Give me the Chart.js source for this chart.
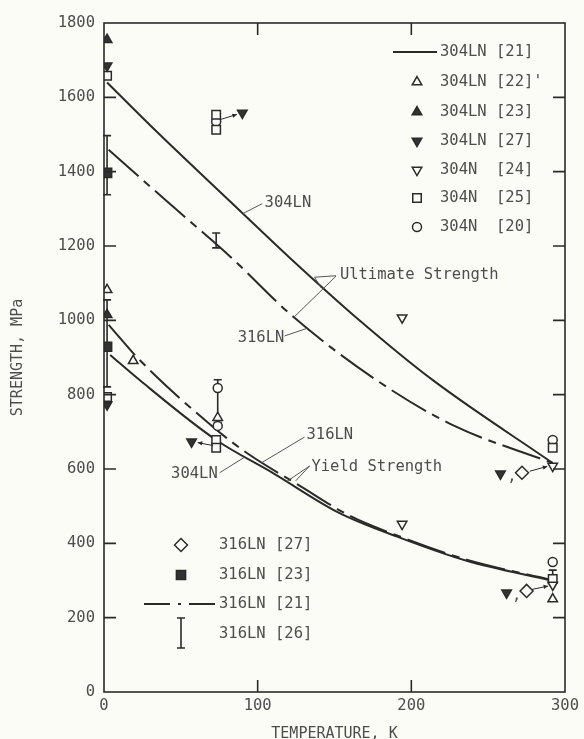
<!DOCTYPE html>
<html>
<head>
<meta charset="utf-8">
<script src="https://cdn.jsdelivr.net/npm/chart.js@4.4.1/dist/chart.umd.min.js"></script>
<style>
  html, body { margin: 0; padding: 0; background: #fcfcf7; }
  #wrap { width: 584px; height: 739px; }
</style>
</head>
<body>
<div id="wrap"><canvas id="chart" width="584" height="739"></canvas></div>
<script>
// curves: temperature (K) and strength (MPa)
const uts304LN_T = [2, 30, 90, 121, 166, 214, 292];
const uts304LN_S = [1640, 1525, 1289, 1168, 1001, 839, 616];
const uts316LN_T = [3, 30, 46, 82, 123, 177, 227, 292];
const uts316LN_S = [1459, 1360, 1302, 1172, 1010, 840, 718, 616];
const ys304LN_T = [4, 23, 73, 110, 153, 192, 236, 291];
const ys304LN_S = [907, 840, 678, 589, 482, 416, 353, 300];
const ys316LN_T = [3, 23, 71, 93, 127, 160, 192, 236, 291];
const ys316LN_S = [988, 894, 713, 643, 556, 474, 419, 356, 302];

// measured points
const p304LN22_T = [2, 19, 74, 292];
const p304LN22_S = [1082, 891, 738, 250];
const p304LN23_T = [2, 2];
const p304LN23_S = [1755, 1015];
const p304LN27_T = [2, 2, 90, 57, 258, 262];
const p304LN27_S = [1685, 773, 1558, 673, 587, 267];
const p304N24_T = [194, 194, 292, 292];
const p304N24_S = [1007, 452, 608, 288];
const p304N25_T = [2, 2, 73, 73, 73, 73, 292, 292];
const p304N25_S = [1658, 794, 1553, 1513, 678, 657, 657, 304];
const p304N20_T = [73, 74, 74, 292, 292];
const p304N20_S = [1535, 818, 716, 678, 350];
const p316LN27_T = [272, 275];
const p316LN27_S = [590, 272];
const p316LN23_T = [2, 2];
const p316LN23_S = [1397, 929];

// 316LN [26] scatter bands
const err316LN26_T = [2, 2, 73, 74, 292];
const err316LN26_lo = [1338, 821, 1195, 725, 290];
const err316LN26_hi = [1497, 1055, 1235, 840, 328];

const xTicks = [0, 100, 200, 300];
const yTicks = [0, 200, 400, 600, 800, 1000, 1200, 1400, 1600, 1800];

const ink = '#2a2a2a';
const grey = '#4d4d4d';
const paper = '#fcfcf7';
const fontFam = '"DejaVu Sans Mono", monospace';
const dashDot = [40, 7, 8, 7];

function pts(T, S) {
    return T.map((t, i) => ({ x: t, y: S[i] }));
}

function marker(label, T, S, style, radius, filled, rotation) {
    return {
        type: 'scatter', label: label, data: pts(T, S), order: 1,
        pointStyle: style, pointRadius: radius, pointRotation: rotation || 0,
        pointBorderWidth: 1.5, borderColor: ink, pointBorderColor: ink,
        pointBackgroundColor: filled ? '#333' : paper, backgroundColor: filled ? '#333' : paper
    };
}

function curve(label, T, S, dash) {
    return {
        type: 'line', label: label, data: pts(T, S), order: 2,
        borderColor: ink, borderWidth: 2, borderDash: dash || [],
        pointRadius: 0, tension: 0.4, cubicInterpolationMode: 'monotone', fill: false
    };
}

const datasets = [
    marker('304LN [22]\'', p304LN22_T, p304LN22_S, 'triangle', 5.5, false),
    marker('304LN [23]', p304LN23_T, p304LN23_S, 'triangle', 5.5, true),
    marker('304LN [27]', p304LN27_T, p304LN27_S, 'triangle', 5.5, true, 180),
    marker('304N  [24]', p304N24_T, p304N24_S, 'triangle', 5.5, false, 180),
    marker('304N  [25]', p304N25_T, p304N25_S, 'rect', 6, false),
    marker('304N  [20]', p304N20_T, p304N20_S, 'circle', 4.5, false),
    marker('316LN [27]', p316LN27_T, p316LN27_S, 'rectRot', 6.5, false),
    marker('316LN [23]', p316LN23_T, p316LN23_S, 'rect', 6.5, true),
    curve('304LN [21]', uts304LN_T, uts304LN_S),
    curve('316LN [21]', uts316LN_T, uts316LN_S, dashDot),
    curve('304LN yield', ys304LN_T, ys304LN_S),
    curve('316LN yield', ys316LN_T, ys316LN_S, dashDot)
];

// text labels with leader lines, in data coordinates
const notes = [
    { text: '304LN', t: 104.5, s: 1316, align: 'left', leads: [[[103, 1314], [90.3, 1287]]] },
    { text: 'Ultimate Strength', t: 153.5, s: 1122, align: 'left',
      leads: [[[151, 1120], [137, 1116], [141.4, 1087]], [[151, 1119], [124, 1010]]] },
    { text: '316LN', t: 87, s: 953, align: 'left', leads: [[[117.5, 958], [131.8, 978]]] },
    { text: '316LN', t: 131.8, s: 692, align: 'left', leads: [[[130.5, 686], [102.6, 617]]] },
    { text: '304LN', t: 74, s: 587, align: 'right', leads: [[[75.3, 590], [91.6, 632]]] },
    { text: 'Yield Strength', t: 135, s: 606, align: 'left',
      leads: [[[133.8, 608], [118.8, 566]], [[133.8, 608], [124.7, 568]]] },
    { text: ',', t: 265.5, s: 578, align: 'center', leads: [] },
    { text: ',', t: 268.5, s: 258, align: 'center', leads: [] }
];

// little arrows tying displaced symbols to their temperature
const arrows = [
    [[75.5, 1540], [86.5, 1554]],
    [[71, 663], [61, 671]],
    [[277, 594], [288.5, 607]],
    [[278.5, 276], [289, 285]]
];

// legend rows, by dataset label
const legendA = ['304LN [21]', '304LN [22]\'', '304LN [23]', '304LN [27]', '304N  [24]', '304N  [25]', '304N  [20]'];
const legendB = ['316LN [27]', '316LN [23]', '316LN [21]', '316LN [26]'];

function drawMark(ctx, ds, px, py) {
    ctx.save();
    ctx.fillStyle = ds.pointBackgroundColor;
    ctx.strokeStyle = ds.pointBorderColor;
    ctx.lineWidth = ds.pointBorderWidth;
    Chart.helpers.drawPoint(ctx, {
        pointStyle: ds.pointStyle, radius: ds.pointRadius,
        rotation: ds.pointRotation, borderWidth: ds.pointBorderWidth
    }, px, py);
    ctx.restore();
}

function drawBar(ctx, px, top, bot) {
    ctx.beginPath();
    ctx.moveTo(px, top); ctx.lineTo(px, bot);
    ctx.moveTo(px - 4, top); ctx.lineTo(px + 4, top);
    ctx.moveTo(px - 4, bot); ctx.lineTo(px + 4, bot);
    ctx.stroke();
}

const decor = {
    id: 'decor',
    beforeDatasetsDraw(chart) {
        const { ctx, scales: { x, y } } = chart;
        ctx.save();
        ctx.strokeStyle = ink;
        ctx.lineWidth = 1.6;
        err316LN26_T.forEach((t, i) => {
            drawBar(ctx, x.getPixelForValue(t), y.getPixelForValue(err316LN26_hi[i]), y.getPixelForValue(err316LN26_lo[i]));
        });
        ctx.restore();
    },
    afterDatasetsDraw(chart) {
        const { ctx, chartArea: a, scales: { x, y } } = chart;
        const byLabel = {};
        chart.data.datasets.forEach(d => { byLabel[d.label] = d; });
        ctx.save();

        // frame and inward ticks on all four sides
        ctx.strokeStyle = ink;
        ctx.lineWidth = 1.6;
        ctx.strokeRect(a.left, a.top, a.right - a.left, a.bottom - a.top);
        ctx.beginPath();
        yTicks.slice(1, -1).forEach(v => {
            const py = y.getPixelForValue(v);
            ctx.moveTo(a.left, py); ctx.lineTo(a.left + 12, py);
            ctx.moveTo(a.right, py); ctx.lineTo(a.right - 12, py);
        });
        xTicks.slice(1, -1).forEach(v => {
            const px = x.getPixelForValue(v);
            ctx.moveTo(px, a.bottom); ctx.lineTo(px, a.bottom - 12);
            ctx.moveTo(px, a.top); ctx.lineTo(px, a.top + 12);
        });
        ctx.stroke();

        // labels and leaders
        ctx.font = '15.5px ' + fontFam;
        ctx.fillStyle = grey;
        ctx.textBaseline = 'middle';
        ctx.strokeStyle = '#555';
        ctx.lineWidth = 1;
        notes.forEach(n => {
            ctx.textAlign = n.align;
            ctx.fillText(n.text, x.getPixelForValue(n.t), y.getPixelForValue(n.s));
            n.leads.forEach(line => {
                ctx.beginPath();
                line.forEach((p, k) => {
                    const px = x.getPixelForValue(p[0]), py = y.getPixelForValue(p[1]);
                    if (k === 0) ctx.moveTo(px, py); else ctx.lineTo(px, py);
                });
                ctx.stroke();
            });
        });

        // arrows
        ctx.strokeStyle = ink;
        ctx.fillStyle = ink;
        arrows.forEach(ar => {
            const x0 = x.getPixelForValue(ar[0][0]), y0 = y.getPixelForValue(ar[0][1]);
            const x1 = x.getPixelForValue(ar[1][0]), y1 = y.getPixelForValue(ar[1][1]);
            const ang = Math.atan2(y1 - y0, x1 - x0);
            ctx.beginPath();
            ctx.moveTo(x0, y0); ctx.lineTo(x1, y1);
            ctx.stroke();
            ctx.beginPath();
            ctx.moveTo(x1, y1);
            ctx.lineTo(x1 - 5 * Math.cos(ang - 0.45), y1 - 5 * Math.sin(ang - 0.45));
            ctx.lineTo(x1 - 5 * Math.cos(ang + 0.45), y1 - 5 * Math.sin(ang + 0.45));
            ctx.closePath();
            ctx.fill();
        });

        // legend, upper right
        ctx.textAlign = 'left';
        ctx.fillStyle = grey;
        const rowsA = [52, 82, 112, 141, 170, 198, 227];
        legendA.forEach((lab, i) => {
            const d = byLabel[lab];
            const ry = rowsA[i];
            if (d.type === 'line') {
                ctx.strokeStyle = ink; ctx.lineWidth = 2; ctx.setLineDash(d.borderDash);
                ctx.beginPath(); ctx.moveTo(393, ry); ctx.lineTo(437, ry); ctx.stroke();
                ctx.setLineDash([]);
            } else {
                drawMark(ctx, d, 417, ry);
            }
            ctx.fillStyle = grey;
            ctx.fillText(lab, 440, ry);
        });

        // legend, lower left
        const rowsB = [545, 575, 604, 634];
        legendB.forEach((lab, i) => {
            const ry = rowsB[i];
            const d = byLabel[lab];
            if (lab === '316LN [26]') {
                ctx.strokeStyle = ink; ctx.lineWidth = 1.6;
                drawBar(ctx, 181, 618, 648);
            } else if (d.type === 'line') {
                ctx.strokeStyle = ink; ctx.lineWidth = 2; ctx.setLineDash([26, 8, 3, 8]);
                ctx.beginPath(); ctx.moveTo(144, ry); ctx.lineTo(216, ry); ctx.stroke();
                ctx.setLineDash([]);
            } else {
                drawMark(ctx, d, 181, ry);
            }
            ctx.fillStyle = grey;
            ctx.fillText(lab, 219, ry);
        });
        ctx.restore();
    }
};

const tickFont = { family: fontFam, size: 15.5 };

new Chart(document.getElementById('chart'), {
    data: { datasets: datasets },
    options: {
        responsive: false,
        animation: false,
        events: [],
        layout: { padding: { left: 0, right: 18, top: 23, bottom: 0 } },
        plugins: { legend: { display: false }, tooltip: { enabled: false } },
        scales: {
            x: {
                type: 'linear', min: 0, max: 300,
                grid: { display: false, drawTicks: false },
                border: { display: false },
                afterBuildTicks: s => { s.ticks = xTicks.map(v => ({ value: v })); },
                afterFit: s => { s.height = 47; },
                ticks: { color: grey, font: tickFont, padding: 5, maxRotation: 0, callback: v => String(v) },
                title: { display: true, text: 'TEMPERATURE, K', color: grey, font: { family: fontFam, size: 15 }, padding: { top: 0, bottom: -4 } }
            },
            y: {
                type: 'linear', min: 0, max: 1800,
                grid: { display: false, drawTicks: false },
                border: { display: false },
                afterBuildTicks: s => { s.ticks = yTicks.map(v => ({ value: v })); },
                afterFit: s => { s.width = 104; },
                ticks: { color: grey, font: tickFont, padding: 9, callback: v => String(v) },
                title: { display: true, text: 'STRENGTH, MPa', color: grey, font: { family: fontFam, size: 15 }, padding: { top: 9, bottom: 0 } }
            }
        }
    },
    plugins: [decor]
});
</script>
</body>
</html>
